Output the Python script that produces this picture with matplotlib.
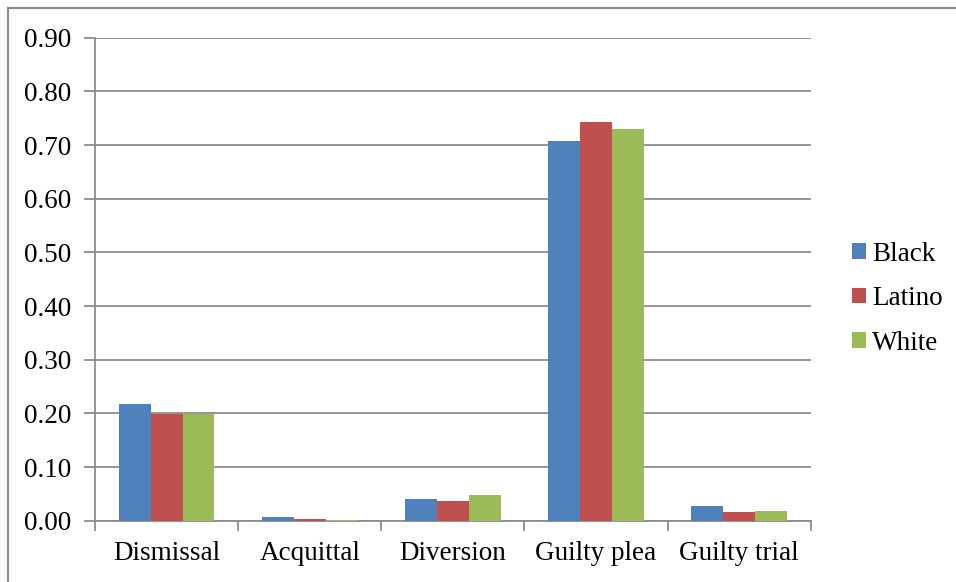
import matplotlib
matplotlib.use("Agg")
import matplotlib.pyplot as plt
import numpy as np
from matplotlib.lines import Line2D

# Case outcome shares by race
categories = ["Dismissal", "Acquittal", "Diversion", "Guilty plea", "Guilty trial"]
black = [0.218, 0.006, 0.040, 0.707, 0.027]
latino = [0.198, 0.003, 0.037, 0.743, 0.016]
white = [0.199, 0.001, 0.047, 0.730, 0.018]
series_names = ["Black", "Latino", "White"]
y_ticks = [0.0, 0.1, 0.2, 0.3, 0.4, 0.5, 0.6, 0.7, 0.8, 0.9]

colors = ["#4F81BD", "#C0504D", "#9BBB59"]
grid_grey = "#8C8C8C"

plt.rcParams["font.family"] = ["Liberation Serif", "DejaVu Serif"]
FS = 19.5

fig = plt.figure(figsize=(9.56, 5.82), dpi=100)
ax = fig.add_axes([0.0997, 0.1053, 0.7482, 0.8299])

x = np.arange(len(categories))
bw = 0.222
for i, (vals, name, c) in enumerate(zip([black, latino, white], series_names, colors)):
    ax.bar(x + (i - 1) * bw, vals, width=bw, color=c, label=name,
           edgecolor="none", zorder=3)

ax.set_xlim(-0.5, len(categories) - 0.5)
ax.set_ylim(0, 0.9)
ax.set_yticks(y_ticks)
ax.set_yticklabels([f"{v:.2f}" for v in y_ticks], fontsize=FS)
ax.yaxis.grid(True, color=grid_grey, linewidth=1.3, zorder=0)

# Category labels centred, tick marks on category boundaries
ax.set_xticks(x)
ax.set_xticklabels(categories, fontsize=FS)
ax.tick_params(axis="x", which="major", length=0, pad=14.5)
ax.set_xticks(np.arange(-0.5, len(categories)), minor=True)
ax.tick_params(axis="x", which="minor", length=7, width=1.3, color=grid_grey)
ax.tick_params(axis="y", length=8, width=1.3, color=grid_grey, pad=9)

for side in ["top", "right"]:
    ax.spines[side].set_visible(False)
for side in ["left", "bottom"]:
    ax.spines[side].set_color(grid_grey)
    ax.spines[side].set_linewidth(1.3)

fig.legend(loc="center left", bbox_to_anchor=(0.891, 0.487), frameon=False,
           fontsize=FS, handlelength=0.52, handleheight=0.52,
           handletextpad=0.22, labelspacing=0.72, borderpad=0, borderaxespad=0)

# Chart-area frame (top and left edges)
fig.add_artist(Line2D([8 / 956, 1.0], [1 - 8 / 582, 1 - 8 / 582],
                      transform=fig.transFigure, color=grid_grey, linewidth=1.5))
fig.add_artist(Line2D([8 / 956, 8 / 956], [0.0, 1 - 8 / 582],
                      transform=fig.transFigure, color=grid_grey, linewidth=1.5))

fig.savefig("out.png", dpi=100)
